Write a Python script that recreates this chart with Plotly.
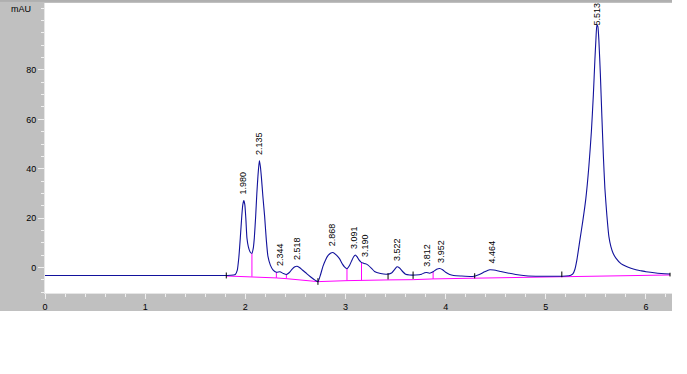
import plotly.graph_objects as go

# ---- data ----
time_min = [0.0, 0.5, 1.0, 1.5, 1.8, 1.85, 1.88, 1.90, 1.92, 1.935, 1.95, 1.965, 1.975, 1.985,
            1.995, 2.005, 2.016, 2.03, 2.05, 2.066, 2.08, 2.09, 2.103, 2.115, 2.126, 2.14, 2.15,
            2.16, 2.175, 2.193, 2.21, 2.226, 2.25, 2.276, 2.31, 2.345, 2.38, 2.41, 2.44, 2.47,
            2.495, 2.515, 2.54, 2.57, 2.60, 2.65, 2.70, 2.725, 2.75, 2.775, 2.80, 2.825, 2.85,
            2.875, 2.91, 2.94, 2.97, 2.99, 3.015, 3.04, 3.06, 3.08, 3.099, 3.115, 3.135, 3.155,
            3.175, 3.20, 3.225, 3.26, 3.29, 3.35, 3.41, 3.46, 3.49, 3.515, 3.54, 3.57, 3.60,
            3.64, 3.70, 3.76, 3.79, 3.81, 3.84, 3.875, 3.91, 3.94, 3.97, 4.00, 4.04, 4.08, 4.15,
            4.27, 4.33, 4.39, 4.44, 4.48, 4.55, 4.62, 4.70, 4.80, 4.95, 5.10, 5.20, 5.25, 5.27,
            5.29, 5.31, 5.34, 5.37, 5.40, 5.43, 5.455, 5.475, 5.49, 5.50, 5.51, 5.52, 5.53,
            5.545, 5.56, 5.575, 5.59, 5.61, 5.63, 5.65, 5.672, 5.70, 5.75, 5.80, 5.85, 5.90,
            5.95, 6.0, 6.1, 6.24]
signal_mau = [-3.2, -3.2, -3.2, -3.2, -3.2, -3.1, -3.0, -2.8, -1.0, 4.0, 12.0, 21.0, 25.5, 27.1,
              25.5, 20.0, 12.0, 8.5, 6.2, 5.8, 8.0, 12.0, 20.6, 30.0, 37.0, 43.3, 41.0,
              36.8, 29.0, 20.6, 11.0, 4.5, 1.0, -0.9, -1.9, -1.7, -2.4, -2.8, -2.0, -0.5,
              0.3, 0.5, 0.0, -1.0, -2.0, -3.7, -5.2, -5.7, -3.0, 0.5, 3.0, 4.8, 5.8,
              6.1, 5.0, 3.6, 1.4, 0.3, -0.5, 0.8, 2.6, 4.3, 5.1, 4.4, 3.1, 2.2,
              1.8, 1.5, 1.0, -0.3, -1.6, -2.4, -2.7, -2.2, -0.8, 0.3, -0.2, -1.6, -2.7,
              -3.0, -3.0, -2.7, -2.1, -2.0, -2.3, -1.7, -0.7, -0.4, -0.9, -1.9, -2.8, -3.2, -3.4,
              -3.6, -2.9, -1.7, -0.9, -1.0, -1.6, -2.2, -2.8, -3.3, -3.5, -3.5, -3.4, -3.1, -2.6,
              -0.8, 3.0, 11.0, 19.0, 28.0, 41.0, 55.0, 70.0, 84.0, 92.0, 98.3, 97.5, 92.0,
              78.0, 61.0, 45.0, 32.0, 21.0, 12.5, 8.5, 5.8, 3.8, 1.6, 0.5, -0.3, -0.9,
              -1.3, -1.7, -2.2, -2.6]

baseline_time = [1.81, 2.066, 2.31, 2.41, 2.725, 3.015, 3.16, 3.425, 3.675, 3.875, 4.29, 5.16, 6.24]
baseline_mau = [-3.4, -3.7, -4.2, -4.5, -5.7, -5.3, -5.1, -5.0, -4.9, -4.6, -4.3, -3.6, -3.0]

drop_time = [2.066, 2.31, 2.41, 3.015, 3.16, 3.875]
drop_top = [5.8, -1.9, -2.8, -0.5, 2.0, -1.7]
drop_bottom = [-3.7, -4.2, -4.5, -5.3, -5.1, -4.6]

mark_time = [1.81, 2.725, 3.425, 3.675, 4.29, 5.16, 6.24]
mark_top = [-2.0, -4.3, -2.3, -1.6, -2.3, -1.6, -2.1]
mark_bottom = [-4.4, -7.0, -4.8, -4.6, -4.4, -3.9, -3.6]

peak_rt = [1.980, 2.135, 2.344, 2.518, 2.868, 3.091, 3.190, 3.522, 3.812, 3.952, 4.464, 5.513]
peak_height = [27.1, 43.3, -1.7, 0.5, 6.1, 5.1, 1.8, 0.3, -2.0, -0.4, -0.9, 98.3]
peak_labels = ["1.980", "2.135", "2.344", "2.518", "2.868", "3.091", "3.190", "3.522",
               "3.812", "3.952", "4.464", "5.513"]

x_tick_vals = [0, 1, 2, 3, 4, 5, 6]
y_tick_vals = [0, 20, 40, 60, 80]

FONT = "Liberation Sans, Arial, sans-serif"
BLUE = "#12129c"
MAGENTA = "#ff00ff"
TICKC = "#f0f0f0"

fig = go.Figure()

fig.add_trace(go.Scatter(x=baseline_time, y=baseline_mau, mode="lines",
                         line=dict(color=MAGENTA, width=1), hoverinfo="skip"))

dx, dy = [], []
for t, a, b in zip(drop_time, drop_top, drop_bottom):
    dx += [t, t, None]
    dy += [a, b, None]
fig.add_trace(go.Scatter(x=dx, y=dy, mode="lines", line=dict(color=MAGENTA, width=1),
                         hoverinfo="skip"))

fig.add_trace(go.Scatter(x=time_min, y=signal_mau, mode="lines",
                         line=dict(color=BLUE, width=1.1, shape="spline", smoothing=0.5)))

mx, my = [], []
for t, a, b in zip(mark_time, mark_top, mark_bottom):
    mx += [t, t, None]
    my += [a, b, None]
fig.add_trace(go.Scatter(x=mx, y=my, mode="lines", line=dict(color="black", width=1),
                         hoverinfo="skip"))

for t, h, lab in zip(peak_rt, peak_height, peak_labels):
    fig.add_annotation(x=t, y=h, text=lab, textangle=-90, showarrow=False,
                       xanchor="center", yanchor="bottom", yshift=(4 if h < 90 else -3),
                       font=dict(family=FONT, size=9, color="black"))

fig.add_annotation(xref="paper", yref="paper", x=-0.038, y=0.979, text="mAU",
                   showarrow=False, xanchor="center", yanchor="middle",
                   font=dict(family=FONT, size=9, color="black"))

# white page areas outside the gray instrument panel
fig.add_shape(type="rect", xref="paper", yref="paper", x0=1.0, x1=1.1, y0=-0.4, y1=1.1,
              fillcolor="white", line=dict(width=0), layer="below")
fig.add_shape(type="rect", xref="paper", yref="paper", x0=-0.2, x1=1.1, y0=-0.4, y1=-0.062,
              fillcolor="white", line=dict(width=0), layer="below")
fig.add_shape(type="line", xref="paper", yref="paper", x0=-0.08, x1=1.0, y0=1.0069, y1=1.0069,
              line=dict(color="#a0a0a0", width=1), layer="below")

fig.update_xaxes(range=[0, 6.26], tickmode="array", tickvals=x_tick_vals, automargin=False,
                 ticks="outside", ticklen=5, tickcolor=TICKC, tickwidth=1,
                 minor=dict(tick0=0, dtick=0.2, ticks="outside", ticklen=3, tickcolor=TICKC),
                 showgrid=False, zeroline=False, showline=True, linecolor="#e6e6e6",
                 tickfont=dict(family=FONT, size=9, color="black"), fixedrange=True)
fig.update_yaxes(range=[-10.3, 107.1], tickmode="array", tickvals=y_tick_vals, automargin=False,
                 ticks="outside", ticklen=6, tickcolor=TICKC, tickwidth=1,
                 minor=dict(tick0=0, dtick=5, ticks="outside", ticklen=3, tickcolor=TICKC),
                 showgrid=False, zeroline=False, showline=True, linecolor="#e6e6e6",
                 tickfont=dict(family=FONT, size=9, color="black"), fixedrange=True)

fig.update_layout(width=687, height=374, margin=dict(l=45, r=15, t=3, b=81, pad=0,
                                                     autoexpand=False),
                  paper_bgcolor="#c0c0c0", plot_bgcolor="white", showlegend=False,
                  font=dict(family=FONT, size=9, color="black"))

fig.write_html("out.html", config={"displayModeBar": False},
               post_script="document.body.style.margin='0';document.body.style.overflow='hidden';")
